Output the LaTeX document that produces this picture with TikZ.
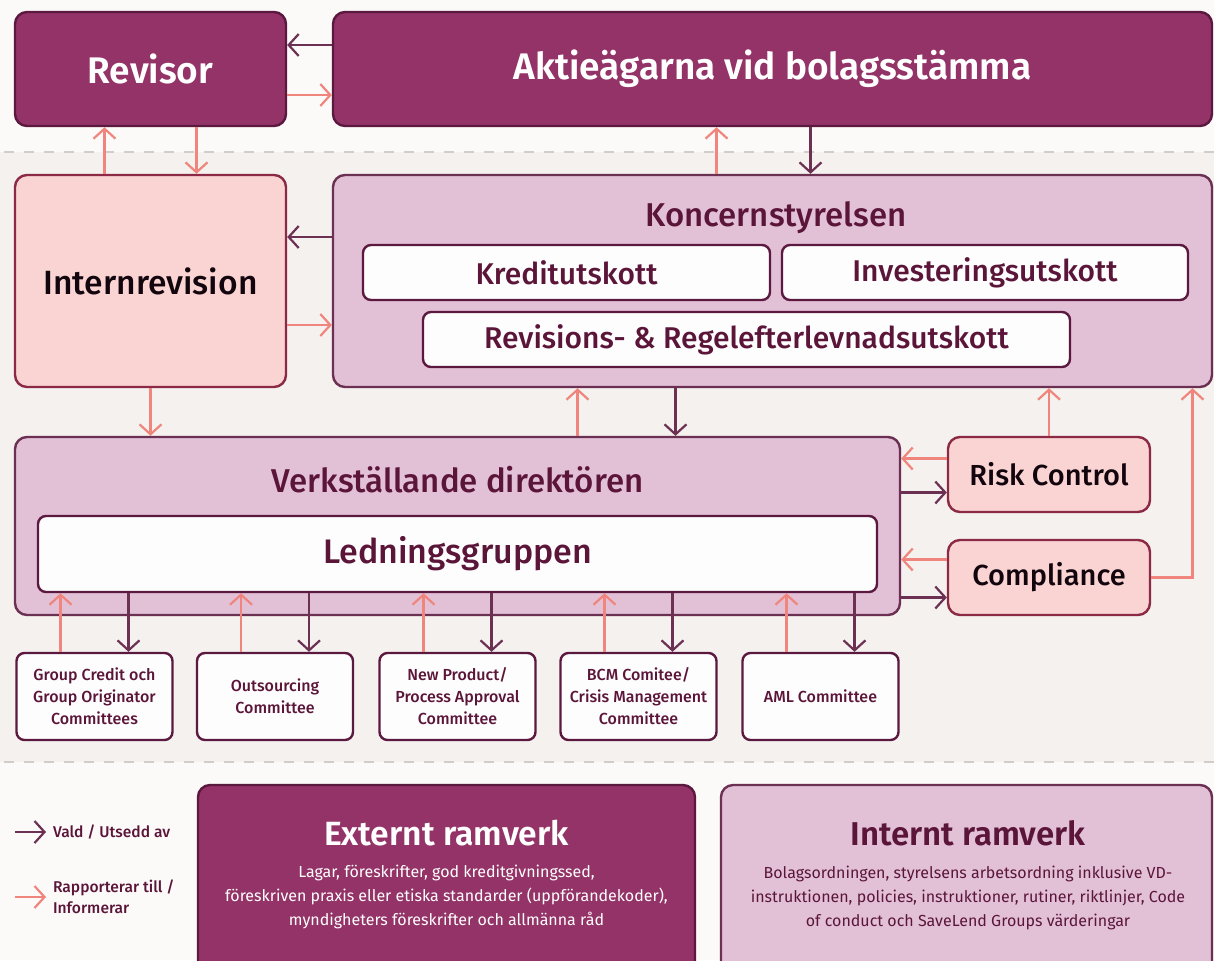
\documentclass[tikz,border=0pt]{standalone}
\usepackage{fontspec}
\setmainfont{Fira Sans}[UprightFont=* Medium, BoldFont=* SemiBold]
\newfontfamily\bodyfont{Fira Sans}
\usetikzlibrary{arrows.meta,positioning}
\definecolor{plum}{HTML}{943367}
\definecolor{plumline}{HTML}{5C1940}
\definecolor{mauve}{HTML}{E2C1D7}
\definecolor{blush}{HTML}{F9D4D3}
\definecolor{blushline}{HTML}{8C2A46}
\definecolor{salmon}{HTML}{EF857C}
\definecolor{ink}{HTML}{5B1539}
\definecolor{band}{HTML}{F4F1EE}
\definecolor{paper}{HTML}{FBFAF9}
\definecolor{dashgrey}{HTML}{D2CDCA}
\tikzstyle{owner}=[
	rectangle,
	rounded corners=6pt,
	line width=1.2pt,
	draw=plumline,
	fill=plum,
	text=white,
	font=\bfseries\fontsize{18.5}{20}\selectfont
]
\tikzstyle{control}=[
	rectangle,
	rounded corners=6pt,
	line width=1.2pt,
	draw=blushline,
	fill=blush,
	text=black!80!plumline
]
\tikzstyle{board}=[
	rectangle,
	rounded corners=6pt,
	line width=1.2pt,
	draw=plumline!90,
	fill=mauve
]
\tikzstyle{inner}=[
	rectangle,
	rounded corners=4pt,
	line width=1.2pt,
	draw=plumline,
	fill=white!97!mauve,
	text=ink,
	font=\fontsize{15}{17}\selectfont
]
\tikzstyle{committee}=[
	inner,
	minimum width=78pt,
	minimum height=43.5pt,
	align=center,
	font=\fontsize{8}{11}\selectfont
]
\tikzstyle{heading}=[
	text=ink,
	font=\fontsize{16.5}{18}\selectfont
]
\tikzstyle{vald}=[
	-{Straight Barb[length=5pt,width=11pt,line width=1.1pt]},
	line width=1.1pt,
	draw=plumline!90
]
\tikzstyle{rapp}=[
	vald,
	draw=salmon
]

\begin{document}
\begin{tikzpicture}[x=0.5pt,y=-0.5pt]
\clip (0,0) rectangle (1214,960);
\fill[paper] (0,0) rectangle (1214,960);
\fill[band] (0,152) rectangle (1214,762);
\draw[dashgrey, line width=1pt, dash pattern=on 5pt off 5pt] (4,152) -- (1214,152);
\draw[dashgrey, line width=1pt, dash pattern=on 5pt off 5pt] (4,762) -- (1214,762);

% owners and auditor
\node [owner, minimum width=135.5pt, minimum height=57pt] (revisor) at (150.5,69) {Revisor};
\node [owner, minimum width=439.5pt, minimum height=57pt] (aktie) at (772.5,69) {Aktieägarna vid bolagsstämma};

% board and internal audit
\node [control, minimum width=135.5pt, minimum height=106pt, font=\fontsize{16.8}{18}\selectfont] (internrev) at (150.5,281) {Internrevision};
\node [board, minimum width=439.5pt, minimum height=106pt] (koncern) at (772.5,281) {};
\node [heading] (koncernlabel) at (776,218) {Koncernstyrelsen};
\node [inner, minimum width=203.5pt, minimum height=27.5pt] (kredit) at (566.5,272.5) {Kreditutskott};
\node [inner, minimum width=203pt, minimum height=27.5pt] (invest) at (985,272.5) {Investeringsutskott};
\node [inner, minimum width=323.5pt, minimum height=27.5pt] (revutskott) at (746.5,339.5) {Revisions- \& Regelefterlevnadsutskott};

% management
\node [board, minimum width=442.5pt, minimum height=89pt] (vd) at (457.5,526) {};
\node [heading] (vdlabel) at (457.5,480) {Verkställande direktören};
\node [inner, minimum width=419.5pt, minimum height=38pt, font=\fontsize{17}{18}\selectfont] (ledning) at (457.5,554) {Ledningsgruppen};
\node [control, minimum width=101pt, minimum height=37.5pt, font=\fontsize{14.5}{16}\selectfont] (risk) at (1049,474.5) {Risk Control};
\node [control, minimum width=101pt, minimum height=37.5pt, font=\fontsize{14.5}{16}\selectfont] (compliance) at (1049,577.5) {Compliance};

% committees
\node [committee] (credit) at (94.5,696.5) {Group Credit och\\Group Originator\\Committees};
\node [committee] (outsourcing) at (275,696.5) {Outsourcing\\Committee};
\node [committee] (newproduct) at (457.5,696.5) {New Product/\\Process Approval\\Committee};
\node [committee] (bcm) at (638.5,696.5) {BCM Comitee/\\Crisis Management\\Committee};
\node [committee] (aml) at (820.5,696.5) {AML Committee};

% frameworks
\node [owner, minimum width=248.5pt, minimum height=100pt] (extern) at (446.5,885) {};
\node [text=white, font=\bfseries\fontsize{16.8}{18}\selectfont] (externlabel) at (446.5,833) {Externt ramverk};
\node [text=white, align=center, font=\bodyfont\fontsize{8}{11.8}\selectfont] (externtext) at (446.5,897) {Lagar, föreskrifter, god kreditgivningssed,\\föreskriven praxis eller etiska standarder (uppförandekoder),\\myndigheters föreskrifter och allmänna råd};
\node [board, minimum width=245.5pt, minimum height=100pt] (intern) at (966.5,885) {};
\node [heading, font=\bfseries\fontsize{16.5}{18}\selectfont] (internlabel) at (968,833) {Internt ramverk};
\node [text=ink, align=center, font=\bodyfont\fontsize{8}{11.8}\selectfont] (interntext) at (968,898) {Bolagsordningen, styrelsens arbetsordning inklusive VD-\\instruktionen, policies, instruktioner, rutiner, riktlinjer, Code\\of conduct och SaveLend Groups värderingar};

% legend
\coordinate (valdstart) at (15,832);
\coordinate (valdend) at (46,832);
\coordinate (rappstart) at (15,897);
\coordinate (rappend) at (46,897);
\draw [vald] (valdstart) -- (valdend);
\draw [rapp] (rappstart) -- (rappend);
\node [right=0pt of valdend, text=ink, font=\fontsize{7.8}{10.5}\selectfont] (valdtext) {Vald / Utsedd av};
\node [right=0pt of rappend, text=ink, align=left, font=\fontsize{7.8}{10.5}\selectfont] (rapptext) {Rapporterar till /\\Informerar};

% connectors
\draw [vald] ([yshift=12pt]aktie.west) -- ([yshift=12pt]revisor.east);
\draw [rapp] ([yshift=-13pt]revisor.east) -- ([yshift=-13pt]aktie.west);
\draw [rapp] ([xshift=-23pt]internrev.north) -- ([xshift=-23pt]revisor.south);
\draw [rapp] ([xshift=23pt]revisor.south) -- ([xshift=23pt]internrev.north);
\draw [rapp] ([xshift=-28pt]koncern.north) -- ([xshift=-28pt]aktie.south);
\draw [vald] ([xshift=19pt]aktie.south) -- ([xshift=19pt]koncern.north);
\draw [vald] ([yshift=22pt]koncern.west) -- ([yshift=22pt]internrev.east);
\draw [rapp] ([yshift=-22pt]internrev.east) -- ([yshift=-22pt]koncern.west);
\draw [rapp] (internrev.south) -- (internrev.south |- vd.north);
\draw [rapp] ([xshift=60pt]vd.north) -- ([xshift=60pt]vd.north |- koncern.south);
\draw [vald] ([xshift=109pt]vd.north |- koncern.south) -- ([xshift=109pt]vd.north);
\draw [rapp] ([yshift=8pt]risk.west) -- ([yshift=8pt]risk.west -| vd.east);
\draw [vald] ([yshift=-9pt]risk.west -| vd.east) -- ([yshift=-9pt]risk.west);
\draw [rapp] ([yshift=9pt]compliance.west) -- ([yshift=9pt]compliance.west -| vd.east);
\draw [vald] ([yshift=-10pt]compliance.west -| vd.east) -- ([yshift=-10pt]compliance.west);
\draw [rapp] (risk.north) -- (risk.north |- koncern.south);
\draw [rapp] (compliance.east) -| ([xshift=210pt]koncern.south);
\foreach \c in {credit,outsourcing,newproduct,bcm,aml} {
	\draw [rapp] ([xshift=-17pt]\c.north) -- ([xshift=-17pt]\c.north |- ledning.south);
	\draw [vald] ([xshift=17pt]\c.north |- ledning.south) -- ([xshift=17pt]\c.north);
}
\end{tikzpicture}
\end{document}
